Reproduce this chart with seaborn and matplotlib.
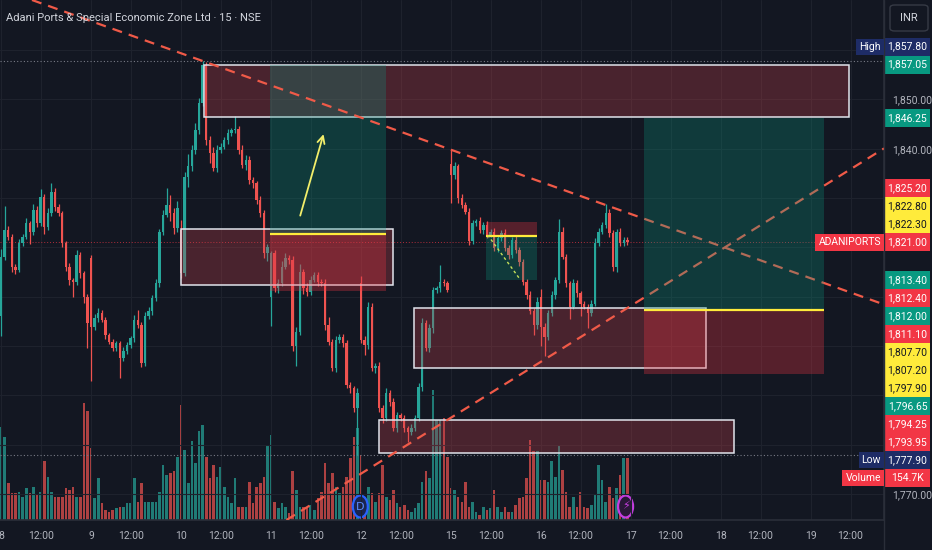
import numpy as np
import pandas as pd
import matplotlib
matplotlib.use('Agg')
import matplotlib.pyplot as plt
from matplotlib.colors import to_rgba
from matplotlib.patches import Rectangle, Ellipse, FancyBboxPatch
from matplotlib.lines import Line2D
import seaborn as sns

BG = '#131722'
GRID = '#1e222d'
TXT = '#b2b5be'
UP = '#26a69a'
DOWN = '#ef5350'
TEAL = '#089981'
RED = '#f23645'
YEL = '#ffeb3b'
NAVY = '#1e2c66'
TREND = '#f05a48'

sns.set_theme(style='dark', rc={'axes.facecolor': BG, 'figure.facecolor': BG,
                                'grid.color': GRID, 'text.color': '#d1d4dc',
                                'xtick.color': TXT, 'ytick.color': TXT})
plt.rcParams['font.family'] = ['Roboto', 'DejaVu Sans']

title = 'Adani Ports & Special Economic Zone Ltd · 15 · NSE'
symbol = 'ADANIPORTS'
currency = 'INR'
day_labels = ['8', '9', '10', '11', '12', '15', '16', '17', '18', '19']
bars_per_day = 25
noon_bar = 11

# closing prices, 15 min bars, one list per session
c_d8 = [1818.1, 1823.5, 1822.2, 1816.1, 1815.4, 1820.8, 1822.2, 1824.9, 1823.2, 1827.6, 1824.9, 1830.3, 1824.2,
        1826.9, 1831.3, 1828.2, 1826.9, 1820.8, 1816.1, 1813.4, 1812.9, 1818.5, 1814.7, 1810.0, 1804.6]
c_d9 = [1803.9, 1805.6, 1806.6, 1805.3, 1802.2, 1800.9, 1799.5, 1800.5, 1797.5, 1798.9, 1800.2, 1801.6, 1805.3,
        1804.3, 1796.5, 1806.0, 1807.0, 1809.7, 1812.7, 1823.2, 1826.6, 1828.6, 1826.9, 1823.9, 1827.9]
c_d10 = [1814.7, 1834.3, 1836.4, 1839.7, 1843.8, 1849.2, 1857.0, 1841.8, 1839.1, 1836.0, 1839.7, 1840.4, 1841.8,
         1843.1, 1843.8, 1844.1, 1839.7, 1836.7, 1837.7, 1833.7, 1833.0, 1829.6, 1826.9, 1818.8, 1820.1]
c_d11 = [1818.8, 1811.7, 1812.7, 1816.1, 1817.8, 1817.4, 1799.9, 1802.9, 1815.1, 1811.7, 1811.0, 1813.4, 1814.4,
         1813.0, 1812.7, 1804.3, 1800.9, 1795.5, 1801.2, 1801.9, 1800.5, 1792.1, 1791.4, 1787.4, 1790.4]
c_d12 = [1801.2, 1800.2, 1808.0, 1795.5, 1796.0, 1787.4, 1785.3, 1790.4, 1788.7, 1783.3, 1786.0, 1785.3, 1783.3,
         1782.6, 1783.3, 1785.3, 1791.7, 1804.6, 1799.5, 1803.6, 1811.4, 1811.7, 1813.0, 1812.7, 1811.4]
c_d15 = [1834.7, 1836.4, 1830.0, 1828.6, 1827.2, 1821.2, 1824.9, 1825.3, 1823.5, 1824.5, 1822.5, 1823.2, 1819.8,
         1821.8, 1822.9, 1819.8, 1818.5, 1821.5, 1819.4, 1817.1, 1813.0, 1810.3, 1807.0, 1804.3, 1809.0]
c_d16 = [1803.9, 1801.9, 1806.6, 1810.3, 1813.4, 1823.2, 1818.1, 1812.7, 1808.0, 1812.7, 1810.7, 1808.6, 1808.0,
         1806.6, 1808.6, 1820.8, 1823.2, 1824.5, 1826.9, 1822.9, 1816.1, 1823.2, 1820.8, 1821.5, 1821.0]
first_open = 1806.0
session_opens = {25: 1817.8, 50: 1823.5, 75: 1810.0, 100: 1812.7, 125: 1837.0, 150: 1810.0}

# wick lengths above / below the body
uw = [1.5, 4.8, 0.8, 0.6, 0.5, 0.8, 0.6, 1.0, 0.5, 1.2, 0.8, 1.5, 0.6, 1.0, 1.8, 0.8, 0.6, 0.5, 0.5, 0.8, 0.4, 0.9, 0.5, 0.6, 0.5,
      0.6, 0.8, 1.2, 0.6, 0.5, 0.4, 0.6, 0.5, 0.6, 0.8, 0.6, 0.5, 1.0, 2.0, 0.6, 0.8, 1.0, 0.6, 0.8, 0.6, 1.0, 3.5, 2.0, 1.0, 1.5,
      2.0, 1.0, 2.5, 1.0, 1.5, 1.0, 0.8, 0.5, 0.8, 1.2, 1.0, 0.8, 0.6, 1.0, 0.5, 2.5, 0.6, 1.0, 1.0, 0.8, 0.6, 0.5, 0.8, 0.6, 0.5,
      0.5, 0.6, 0.8, 1.2, 1.0, 0.6, 0.8, 1.0, 1.5, 0.6, 1.0, 0.8, 0.6, 0.5, 0.6, 0.8, 1.5, 0.6, 0.8, 0.6, 0.5, 0.8, 0.6, 0.5, 1.0,
      1.5, 0.8, 1.0, 0.8, 0.6, 0.8, 0.6, 1.0, 0.6, 0.8, 0.6, 0.5, 0.6, 0.5, 0.8, 0.6, 0.8, 1.0, 0.6, 0.8, 0.6, 0.5, 3.5, 0.6, 0.5,
      3.0, 1.0, 0.6, 0.8, 0.6, 0.8, 0.6, 0.5, 0.8, 0.6, 0.8, 0.6, 0.8, 0.5, 0.6, 0.8, 0.6, 0.5, 0.8, 0.6, 0.5, 0.6, 0.8, 0.6, 1.0,
      1.5, 0.8, 0.6, 0.8, 0.6, 2.5, 1.0, 0.6, 0.5, 0.8, 0.6, 0.5, 0.6, 0.5, 0.8, 1.0, 0.8, 0.6, 1.8, 0.8, 0.6, 0.5, 0.8, 0.6, 0.5]
lw = [4.0, 0.6, 0.8, 1.0, 0.8, 0.5, 0.6, 0.5, 2.5, 0.6, 0.8, 0.5, 1.5, 0.6, 0.5, 0.8, 0.6, 0.8, 0.8, 1.0, 3.0, 0.6, 1.0, 1.2, 5.0,
      11.0, 0.6, 0.8, 0.5, 0.8, 0.6, 0.5, 0.6, 4.0, 0.6, 0.5, 0.6, 0.8, 0.6, 0.8, 0.5, 0.6, 0.8, 0.6, 0.8, 0.6, 0.5, 1.5, 1.2, 0.8,
      1.0, 0.5, 2.0, 1.0, 0.8, 0.8, 0.5, 1.0, 2.0, 0.6, 0.8, 0.6, 0.5, 0.8, 0.6, 0.6, 0.8, 0.6, 1.0, 0.8, 1.0, 0.8, 0.8, 1.0, 1.5,
      6.0, 0.8, 1.0, 0.6, 0.5, 0.8, 1.0, 4.0, 0.6, 1.2, 0.8, 0.6, 0.5, 0.8, 0.6, 1.0, 0.8, 0.6, 0.8, 0.6, 0.8, 0.6, 1.0, 0.8, 9.5,
      0.6, 2.0, 0.8, 0.6, 1.0, 0.8, 1.0, 0.6, 0.8, 0.6, 0.8, 0.6, 0.8, 2.0, 0.6, 0.5, 0.6, 0.8, 0.6, 0.8, 1.0, 0.6, 0.8, 0.6, 0.5,
      5.8, 0.8, 1.0, 0.6, 0.5, 0.8, 0.6, 0.5, 0.6, 0.8, 0.6, 0.5, 0.6, 0.8, 0.5, 0.6, 0.8, 0.6, 0.5, 0.8, 0.6, 0.8, 0.6, 2.0, 0.8,
      4.0, 4.0, 0.6, 0.5, 0.8, 0.6, 0.5, 0.8, 2.5, 0.6, 0.8, 2.5, 0.6, 3.0, 0.6, 0.5, 0.6, 0.5, 0.6, 0.8, 0.8, 1.0, 0.6, 0.5, 0.6]

# volume in thousands
v_d8 = [233, 208, 92, 67, 67, 71, 58, 79, 67, 83, 62, 71, 146, 108, 71, 58, 58, 58, 79, 75, 83, 58, 58, 292, 271]
v_d9 = [179, 54, 104, 42, 25, 21, 25, 29, 33, 33, 42, 42, 104, 46, 92, 46, 46, 46, 46, 71, 137, 112, 117, 121, 158]
v_d10 = [287, 175, 92, 196, 142, 221, 237, 158, 104, 137, 108, 133, 83, 58, 42, 104, 33, 33, 33, 96, 42, 83, 92, 108, 187]
v_d11 = [212, 46, 29, 42, 33, 17, 121, 75, 33, 33, 33, 37, 25, 54, 71, 142, 92, 117, 83, 67, 83, 108, 154, 208, 229]
v_d12 = [162, 58, 83, 67, 46, 67, 137, 58, 50, 75, 42, 33, 37, 25, 21, 29, 42, 96, 121, 104, 325, 250, 250, 254, 158]
v_d15 = [79, 75, 58, 46, 96, 33, 46, 21, 12, 33, 25, 29, 75, 33, 21, 33, 21, 21, 37, 54, 58, 104, 200, 171, 171]
v_d16 = [100, 100, 96, 146, 108, 187, 125, 71, 33, 58, 33, 71, 33, 29, 37, 62, 137, 100, 46, 83, 54, 79, 112, 154, 154.7]

# drawings: rectangles (bar from, bar to, price low, price high)
zones = [(56.5, 235.5, 1846.4, 1857.05),
         (50.0, 108.8, 1812.4, 1823.7),
         (114.7, 195.8, 1795.5, 1807.7),
         (105.0, 203.6, 1778.3, 1785.0)]
long_a = dict(start=74.8, end=107.0, entry=1822.80, target=1857.05, stop=1811.10)
short_a = dict(start=134.7, end=148.9, entry=1822.30, target=1813.40, stop=1825.20)
long_b = dict(start=178.5, end=228.5, entry=1807.20, target=1846.25, stop=1794.25)
trend_down = [(56, 1857.8), (125, 1839.8)]
trend_up = [(124, 1785.0), (174, 1807.7)]
arrow_tail = (82.9, 1825.9)
arrow_head = (89.8, 1843.5)
short_path = [(135.2, 1822.5), (143.9, 1813.8)]
dividend_bar = 99.8
alert_bar = 173.5

tag_values = [1857.05, 1846.25, 1825.20, 1822.80, 1822.30, 1813.40, 1812.40, 1812.00, 1811.10,
              1807.70, 1807.20, 1797.90, 1796.65, 1794.25, 1793.95]
tag_kinds = ['teal', 'teal', 'red', 'yellow', 'yellow', 'teal', 'red', 'teal', 'red',
             'yellow', 'yellow', 'yellow', 'teal', 'red', 'red']

closes = np.array(c_d8 + c_d9 + c_d10 + c_d11 + c_d12 + c_d15 + c_d16)
opens = np.concatenate([[first_open], closes[:-1]])
for k, v in session_opens.items():
    opens[k] = v
highs = np.maximum(opens, closes) + np.array(uw)
lows = np.minimum(opens, closes) - np.array(lw)
volume = np.array(v_d8 + v_d9 + v_d10 + v_d11 + v_d12 + v_d15 + v_d16)
bars = np.arange(len(closes))
up = closes >= opens
df = pd.DataFrame({'bar': bars, 'volume': volume, 'side': np.where(up, 'up', 'down')})

W, H = 932, 550
fig = plt.figure(figsize=(W / 100, H / 100), dpi=100)
ax = fig.add_axes([0, 30 / H, 884 / W, 520 / H])
vax = ax.twinx()
vax.set_zorder(0)
ax.set_zorder(1)
ax.patch.set_visible(False)
vax.patch.set_visible(True)
vax.patch.set_facecolor(BG)

# volume pane
sns.barplot(data=df, x='bar', y='volume', hue='side', palette={'up': UP, 'down': DOWN},
            native_scale=True, dodge=False, width=0.72, legend=False, errorbar=None,
            saturation=1, alpha=0.7, linewidth=0, ax=vax)
vax.set_ylim(0, 1297)
vax.set_yticks([])
vax.set_ylabel('')
for s in vax.spines.values():
    s.set_visible(False)

# candles
col = np.where(up, UP, DOWN)
ax.vlines(bars, lows, highs, colors=col, lw=0.9, zorder=3)
ax.bar(bars, np.maximum(np.abs(closes - opens), 0.15), bottom=np.minimum(opens, closes),
       width=0.66, color=col, linewidth=0, zorder=3)

# zones
for x0, x1, p0, p1 in zones:
    ax.add_patch(Rectangle((x0, p0), x1 - x0, p1 - p0, facecolor=to_rgba('#c8404a', 0.3),
                           edgecolor='#e0e3eb', lw=1.1, zorder=4))


def draw_position(pos, z):
    s, e = pos['start'], pos['end']
    ax.add_patch(Rectangle((s, pos['entry']), e - s, pos['target'] - pos['entry'],
                           facecolor=to_rgba(TEAL, 0.27), lw=0, zorder=z))
    ax.add_patch(Rectangle((s, pos['entry']), e - s, pos['stop'] - pos['entry'],
                           facecolor=to_rgba(RED, 0.3), lw=0, zorder=z))
    ax.hlines(pos['entry'], s, e, color=YEL, lw=1.6, zorder=z + 0.1)


draw_position(long_a, 5)
draw_position(short_a, 5)
ax.plot(*zip(*short_path), ls=(0, (2, 2)), color='#c6e05a', lw=1, zorder=5.2)
ax.axline(*trend_down, color=TREND, lw=1.6, ls=(0, (4.5, 3.2)), zorder=6)
ax.axline(*trend_up, color=TREND, lw=1.6, ls=(0, (4.5, 3.2)), zorder=6)
draw_position(long_b, 7)
ax.annotate('', xy=arrow_head, xytext=arrow_tail,
            arrowprops=dict(arrowstyle='->', color='#f2ee6a', lw=1.3, mutation_scale=13), zorder=8)

high_p, low_p, last_p = highs.max(), lows.min(), closes[-1]
ax.axhline(high_p, color='#787b86', ls=(0, (1, 2)), lw=0.8, zorder=2)
ax.axhline(low_p, color='#787b86', ls=(0, (1, 2)), lw=0.8, zorder=2)
ax.axhline(last_p, color=RED, ls=(0, (1, 2)), lw=0.7, alpha=0.7, zorder=2)

# axes, ticks, grid
ax.set_xlim(-0.3, 245.3)
ax.set_ylim(1764.7, 1870.17)
vax.set_xlim(ax.get_xlim())
xt, xl = [], []
for d, lab in enumerate(day_labels):
    xt += [d * bars_per_day, d * bars_per_day + noon_bar]
    xl += [lab, '12:00']
ax.set_xticks(xt, xl)
yt = np.arange(1770, 1870, 10)
ax.yaxis.tick_right()
ax.tick_params(axis='x', length=0, pad=8, labelsize=7.5, colors=TXT)
ax.tick_params(axis='y', length=0, pad=6, labelsize=7.5, colors=TXT)
ax.set_xlabel('')
ax.set_ylabel('')
ax.grid(True, color=GRID, lw=0.8)
ax.set_axisbelow(True)
for name, s in ax.spines.items():
    s.set_visible(name in ('right', 'bottom'))
    s.set_color('#2a2e39')

fig.text(6 / W, 1 - 18 / H, title, fontsize=8, color='#d1d4dc', va='center')

# dividend and alert markers
for b, ec, fc, sym in [(dividend_bar, '#2962ff', '#1a2450', 'D'), (alert_bar, '#c43ee0', '#2a1838', '⚡')]:
    xp = ax.transData.transform((b, 0))[0]
    fig.add_artist(Ellipse((xp / W, 43.5 / H), 15 / W, 22 / H, transform=fig.transFigure,
                           facecolor=fc, edgecolor=ec, lw=1.6))
    fig.text(xp / W, 43.5 / H, sym, color=ec if sym != 'D' else '#5b8cff', fontsize=8,
             ha='center', va='center', family=['DejaVu Sans'])

# price scale tags, stacked like the platform does
kind_col = {'teal': (TEAL, 'white'), 'red': (RED, 'white'), 'yellow': (YEL, '#131722')}
gap = 18


def ypx(p):
    return ax.transData.transform((0, p))[1]


tags = [dict(y=ypx(high_p), text='{:,.2f}'.format(high_p), bg=NAVY, fg='white', name='High')]
for v, k in zip(tag_values, tag_kinds):
    tags.append(dict(y=ypx(v), text='{:,.2f}'.format(v), bg=kind_col[k][0], fg=kind_col[k][1], name=None))
tags.append(dict(y=ypx(low_p), text='{:,.2f}'.format(low_p), bg=NAVY, fg='white', name='Low'))
tags.append(dict(y=vax.transData.transform((0, volume[-1]))[1], text='{:.1f}K'.format(volume[-1]),
                 bg=RED, fg='white', name='Volume'))
anchor = dict(y=ypx(last_p), text='{:,.2f}'.format(last_p), bg=RED, fg='white', name=symbol)

above = sorted([t for t in tags if t['y'] > anchor['y']], key=lambda t: t['y'])
below = sorted([t for t in tags if t['y'] <= anchor['y']], key=lambda t: -t['y'])
prev = anchor['y']
for t in above:
    t['y'] = max(t['y'], prev + gap)
    prev = t['y']
prev = anchor['y']
for t in below:
    t['y'] = min(t['y'], prev - gap)
    prev = t['y']
all_tags = tags + [anchor]

# hide scale numbers that sit under a tag
tag_y = np.array([t['y'] for t in all_tags])
ylabels = ['' if np.min(np.abs(tag_y - ypx(v))) < 15 else '{:,.2f}'.format(v) for v in yt]
ax.set_yticks(yt, ylabels)
for lab in ax.get_yticklabels():
    lab.set_horizontalalignment('left')

for t in all_tags:
    yc = t['y']
    fig.add_artist(Rectangle((885 / W, (yc - 9) / H), 45 / W, 18 / H, transform=fig.transFigure,
                             facecolor=t['bg'], edgecolor='none'))
    fig.text(907.5 / W, yc / H, t['text'], color=t['fg'], fontsize=7.5, ha='center', va='center')
    if t['name']:
        fig.text(881 / W, yc / H, t['name'], color=t['fg'], fontsize=7.5, ha='right', va='center',
                 bbox=dict(boxstyle='square,pad=0.3', facecolor=t['bg'], edgecolor='none'))

fig.add_artist(FancyBboxPatch((890 / W, 1 - 31 / H), 38 / W, 26 / H, transform=fig.transFigure,
                              boxstyle='round,pad=0,rounding_size=0.005', facecolor=BG,
                              edgecolor='#363a45', lw=1))
fig.text(909 / W, 1 - 18 / H, currency, color='#d1d4dc', fontsize=8, ha='center', va='center')
fig.add_artist(Line2D([884 / W, 884 / W], [0, 1], transform=fig.transFigure, color='#2a2e39', lw=1))

fig.savefig('out.png', dpi=100, facecolor=BG)
